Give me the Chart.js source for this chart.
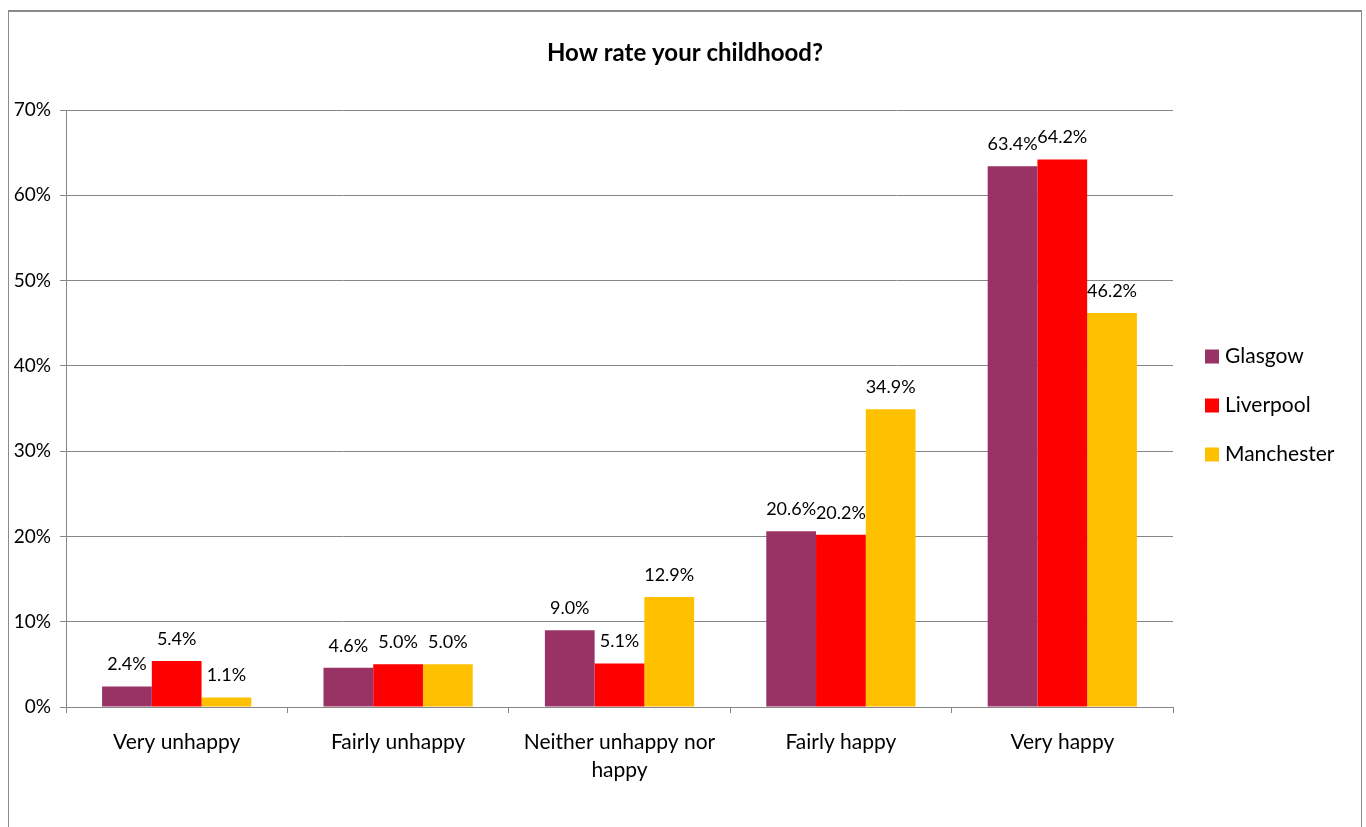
<!DOCTYPE html>
<html>
<head>
<meta charset="utf-8">
<script src="https://cdn.jsdelivr.net/npm/chart.js@4"></script>
<style>
    html, body { margin: 0; padding: 0; background: #fff; overflow: hidden; }
    #frame {
        position: absolute;
        left: 8px;
        top: 10px;
        width: 1352px;
        height: 830px;
        border: 1px solid #8a8a8a;
        border-top-width: 2px;
        border-bottom: none;
    }
    #myChart { display: block; }
</style>
</head>
<body>
<div id="frame">
    <canvas id="myChart" width="1352" height="816"></canvas>
</div>
<script>
const categories = ['Very unhappy', 'Fairly unhappy', ['Neither unhappy nor', 'happy'], 'Fairly happy', 'Very happy'];
const seriesNames = ['Glasgow', 'Liverpool', 'Manchester'];
const glasgow = [2.4, 4.6, 9.0, 20.6, 63.4];
const liverpool = [5.4, 5.0, 5.1, 20.2, 64.2];
const manchester = [1.1, 5.0, 12.9, 34.9, 46.2];
const yTicks = [0, 10, 20, 30, 40, 50, 60, 70];
const colors = ['#993366', '#ff0000', '#ffc000'];
const chartTitle = 'How rate your childhood?';

const FONT = 'Lato, "Open Sans", sans-serif';

// data labels above each bar
const barLabels = {
    id: 'barLabels',
    afterDatasetsDraw(chart) {
        const ctx = chart.ctx;
        ctx.save();
        ctx.font = '18px ' + FONT;
        ctx.fillStyle = '#000';
        ctx.textAlign = 'center';
        ctx.textBaseline = 'middle';
        chart.data.datasets.forEach((ds, i) => {
            chart.getDatasetMeta(i).data.forEach((bar, j) => {
                ctx.fillText(ds.data[j].toFixed(1) + '%', bar.x, bar.y - 22);
            });
        });
        ctx.restore();
    }
};

// title centred on the whole canvas, legend to the right of the plot
const titleAndLegend = {
    id: 'titleAndLegend',
    afterDraw(chart) {
        const ctx = chart.ctx;
        const area = chart.chartArea;
        ctx.save();
        ctx.fillStyle = '#000';
        ctx.font = 'bold 24px ' + FONT;
        ctx.textAlign = 'center';
        ctx.textBaseline = 'middle';
        ctx.fillText(chartTitle, chart.width / 2, 41);

        const rowGap = 49;
        const midY = (area.top + area.bottom) / 2 - 3;
        const startY = midY - rowGap * (chart.data.datasets.length - 1) / 2;
        const x = area.right + 32;
        ctx.font = '21px ' + FONT;
        ctx.textAlign = 'left';
        chart.data.datasets.forEach((ds, i) => {
            const y = startY + i * rowGap;
            ctx.fillStyle = ds.backgroundColor;
            ctx.fillRect(x, y - 7, 14, 14);
            ctx.fillStyle = '#000';
            ctx.fillText(ds.label, x + 20, y);
        });
        ctx.restore();
    }
};

new Chart(document.getElementById('myChart'), {
    type: 'bar',
    data: {
        labels: categories,
        datasets: [
            { label: seriesNames[0], data: glasgow, backgroundColor: colors[0] },
            { label: seriesNames[1], data: liverpool, backgroundColor: colors[1] },
            { label: seriesNames[2], data: manchester, backgroundColor: colors[2] }
        ]
    },
    options: {
        responsive: false,
        animation: false,
        layout: { padding: { left: 0, right: 188, top: 98, bottom: 0 } },
        datasets: {
            bar: { categoryPercentage: 0.674, barPercentage: 1.0 }
        },
        plugins: {
            legend: { display: false },
            tooltip: { enabled: false },
            title: { display: false }
        },
        scales: {
            x: {
                afterFit(scale) { scale.height = 121; },
                grid: {
                    display: true,
                    drawOnChartArea: false,
                    drawTicks: true,
                    tickLength: 6,
                    color: '#868686'
                },
                border: { color: '#868686' },
                ticks: {
                    color: '#000',
                    padding: 15,
                    maxRotation: 0,
                    font: { family: FONT, size: 21, lineHeight: 1.333 }
                }
            },
            y: {
                min: 0,
                max: 70,
                afterFit(scale) { scale.width = 57; },
                afterBuildTicks(scale) {
                    scale.ticks = yTicks.map(v => ({ value: v }));
                },
                grid: {
                    color: '#868686',
                    tickLength: 6
                },
                border: { color: '#868686' },
                ticks: {
                    color: '#000',
                    padding: 9,
                    font: { family: FONT, size: 19 },
                    callback: (v) => v + '%'
                }
            }
        }
    },
    plugins: [barLabels, titleAndLegend]
});
</script>
</body>
</html>
